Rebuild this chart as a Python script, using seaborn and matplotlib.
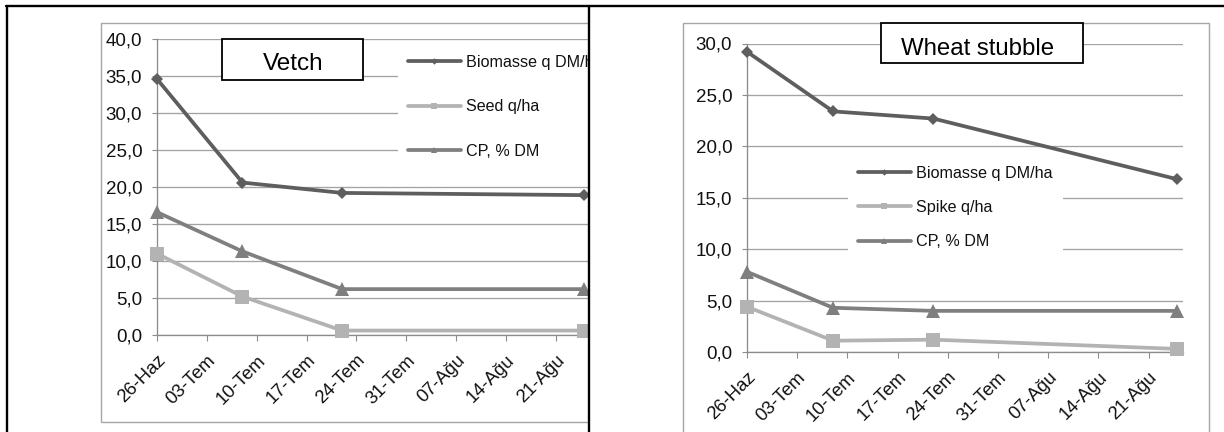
import numpy as np
import pandas as pd
import matplotlib
matplotlib.use("Agg")
import matplotlib.pyplot as plt
import matplotlib.dates as mdates
import matplotlib.transforms as mtransforms
from matplotlib.patches import Rectangle
from matplotlib.lines import Line2D
import seaborn as sns

# ---------------- data ----------------
sample_dates = ["2010-06-26", "2010-07-08", "2010-07-22", "2010-08-25"]

vetch_biomass = [34.6, 20.6, 19.2, 18.9]
vetch_seed = [11.0, 5.2, 0.6, 0.6]
vetch_cp = [16.6, 11.3, 6.2, 6.2]

wheat_biomass = [29.2, 23.4, 22.7, 16.8]
wheat_spike = [4.4, 1.1, 1.2, 0.3]
wheat_cp = [7.8, 4.3, 4.0, 4.0]

tick_dates = ["2010-06-26", "2010-07-03", "2010-07-10", "2010-07-17", "2010-07-24",
              "2010-07-31", "2010-08-07", "2010-08-14", "2010-08-21"]
tick_labels = ["26-Haz", "03-Tem", "10-Tem", "17-Tem", "24-Tem",
               "31-Tem", "07-Ağu", "14-Ağu", "21-Ağu"]

vetch_labels = ["Biomasse q DM/ha", "Seed q/ha", "CP, % DM"]
wheat_labels = ["Biomasse q DM/ha", "Spike q/ha", "CP, % DM"]

# ---------------- style ----------------
sns.set_style("white")
plt.rcParams["font.family"] = ["Liberation Sans", "DejaVu Sans"]

W, H = 1224, 432
fig = plt.figure(figsize=(W / 100, H / 100), dpi=100)


def fx(x):
    return x / W


def fy(y):
    return 1 - y / H


COL_BIO = "#5e5e5e"
COL_SEED = "#b3b3b3"
COL_CP = "#7f7f7f"
GRID = "#a3a3a3"
AXC = "#8c8c8c"

x0 = mdates.date2num(pd.Timestamp("2010-06-26"))
xlim = (x0, x0 + 60.8)


def make_panel(rect, series, labels, ymax, leg_anchor, labelspacing):
    ax = fig.add_axes(rect)
    ax.set_facecolor("none")
    d = pd.to_datetime(sample_dates)
    specs = [("D", 6.5, COL_BIO), ("s", 9.8, COL_SEED), ("^", 9.8, COL_CP)]
    for vals, lab, (mk, ms, col) in zip(series, labels, specs):
        sns.lineplot(x=d, y=vals, ax=ax, color=col, marker=mk, markersize=ms,
                     linewidth=2.7, markeredgewidth=0, label=lab, clip_on=False,
                     zorder=3)
    ax.set_xlim(*xlim)
    ax.set_ylim(0, ymax)
    yt = np.arange(0, ymax + 0.1, 5)
    ax.set_yticks(yt)
    ax.set_yticklabels([f"{v:.1f}".replace(".", ",") for v in yt])
    ax.set_xticks(mdates.date2num(pd.to_datetime(tick_dates)))
    ax.set_xticklabels(tick_labels, rotation=45, ha="right", va="center",
                       rotation_mode="anchor")
    ax.set_xlabel("")
    ax.set_ylabel("")
    ax.yaxis.grid(True, color=GRID, lw=0.95)
    ax.xaxis.grid(False)
    ax.set_axisbelow(True)
    for s in ["top", "right"]:
        ax.spines[s].set_visible(False)
    for s in ["left", "bottom"]:
        ax.spines[s].set_color(AXC)
        ax.spines[s].set_linewidth(0.95)
    ax.tick_params(axis="y", which="major", direction="out", length=3.6, width=0.8,
                   color=AXC, pad=7.0, labelsize=13.5, labelcolor="#111111", left=True)
    ax.tick_params(axis="x", which="major", direction="out", length=4, width=0.8,
                   color=AXC, pad=8, labelsize=13.3, labelcolor="#111111", bottom=True)
    off = mtransforms.ScaledTranslation(0.06, -0.06, fig.dpi_scale_trans)
    for lbl in ax.get_xticklabels():
        lbl.set_transform(lbl.get_transform() + off)
    leg = ax.legend(loc="upper left", bbox_to_anchor=leg_anchor,
                    bbox_transform=fig.transFigure, borderaxespad=0, frameon=True,
                    facecolor="white", edgecolor="none", framealpha=1, fancybox=False,
                    fontsize=11.6, handlelength=3.3, handletextpad=0.35,
                    labelspacing=labelspacing, borderpad=0.6, markerscale=0.5)
    for t in leg.get_texts():
        t.set_color("#111111")
    return ax


# left panel (Vetch)
axL = make_panel([fx(157), fy(335), (590 - 157) / W, (335 - 39) / H],
                 [vetch_biomass, vetch_seed, vetch_cp], vetch_labels, 40,
                 (fx(398), fy(45)), 1.83)
# right panel (Wheat stubble)
axR = make_panel([fx(747), fy(352), (1183 - 747) / W, (352 - 43.5) / H],
                 [wheat_biomass, wheat_spike, wheat_cp], wheat_labels, 30,
                 (fx(848), fy(156)), 1.2)

# gray chart-area boxes
fig.add_artist(Rectangle((fx(101), fy(422)), (589 - 101) / W, (422 - 23) / H,
                         transform=fig.transFigure, fill=False, edgecolor="#a6a6a6",
                         lw=1.0, zorder=-1))
fig.add_artist(Rectangle((fx(683), fy(440)), (1209 - 683) / W, (440 - 23) / H,
                         transform=fig.transFigure, fill=False, edgecolor="#a6a6a6",
                         lw=1.0, zorder=-1))

# white cover between panels (left chart is cut off by the divider)
fig.add_artist(Rectangle((fx(590.3), 0), (681 - 590.3) / W, fy(7), transform=fig.transFigure,
                         facecolor="white", edgecolor="none", zorder=10))

# title boxes
fig.add_artist(Rectangle((fx(222), fy(80)), (363 - 222) / W, (80 - 39) / H,
                         transform=fig.transFigure, facecolor="white", edgecolor="black",
                         lw=1.3, zorder=12))
fig.text(fx(293), fy(70.5), "Vetch", ha="center", va="baseline", fontsize=17.5,
         color="black", zorder=13)
fig.add_artist(Rectangle((fx(881), fy(63)), (1083 - 881) / W, (63 - 23) / H,
                         transform=fig.transFigure, facecolor="white", edgecolor="black",
                         lw=1.3, zorder=12))
fig.text(fx(977.5), fy(55), "Wheat stubble", ha="center", va="baseline", fontsize=17.3,
         color="black", zorder=13)

# outer black frame and divider
fig.add_artist(Line2D([fx(6.7), fx(6.7)], [0, fy(5.7)], transform=fig.transFigure,
                      color="black", lw=1.7, zorder=14))
fig.add_artist(Line2D([fx(5.9), 1], [fy(5.7), fy(5.7)], transform=fig.transFigure,
                      color="black", lw=1.7, zorder=14))
fig.add_artist(Line2D([fx(589.3), fx(589.3)], [0, fy(5.7)], transform=fig.transFigure,
                      color="black", lw=1.7, zorder=14))

fig.savefig("out.png", dpi=100, facecolor="white")
